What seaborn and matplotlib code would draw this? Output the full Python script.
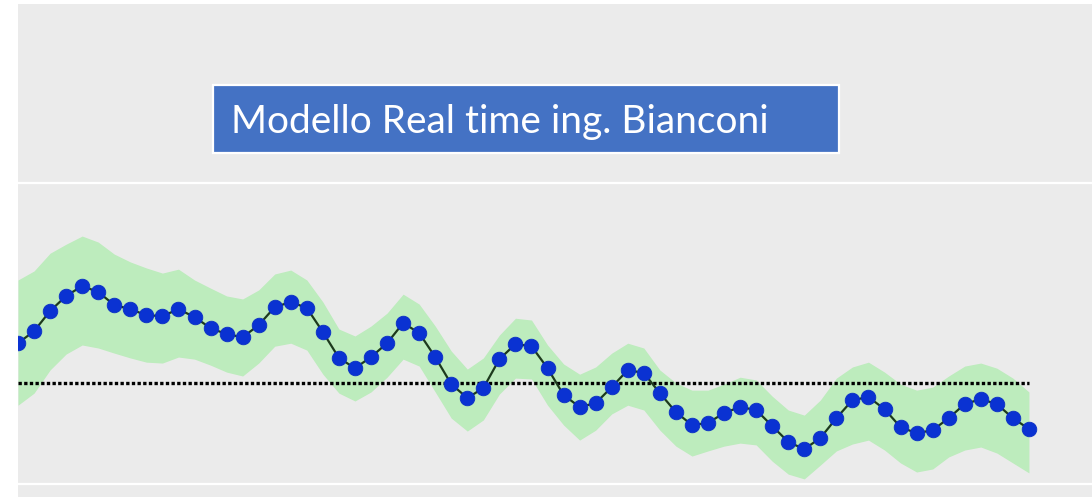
import matplotlib
matplotlib.use("Agg")
import matplotlib.pyplot as plt
from matplotlib.patches import Rectangle
import pandas as pd
import seaborn as sns

title = "Modello Real time ing. Bianconi"

step = list(range(64))
model = [4.68, 5.08, 5.75, 6.25, 6.58, 6.38, 5.95, 5.81, 5.61, 5.58,
         5.81, 5.55, 5.18, 4.98, 4.88, 5.28, 5.88, 6.05, 5.85, 5.05,
         4.19, 3.85, 4.22, 4.68, 5.35, 5.02, 4.22, 3.32, 2.86, 3.19,
         4.15, 4.65, 4.58, 3.85, 2.96, 2.56, 2.69, 3.22, 3.79, 3.69,
         3.02, 2.39, 1.96, 2.03, 2.36, 2.56, 2.46, 1.93, 1.40, 1.16,
         1.53, 2.19, 2.79, 2.89, 2.49, 1.89, 1.69, 1.79, 2.19, 2.66,
         2.82, 2.66, 2.19, 1.83]
upper = [6.78, 7.08, 7.67, 7.97, 8.24, 8.04, 7.64, 7.38, 7.18, 7.01,
         7.14, 6.78, 6.51, 6.25, 6.15, 6.45, 6.98, 7.11, 6.78, 6.05,
         5.15, 4.92, 5.25, 5.68, 6.31, 5.98, 5.25, 4.42, 3.82, 4.19,
         4.95, 5.51, 5.45, 4.62, 3.99, 3.65, 3.89, 4.35, 4.68, 4.52,
         3.79, 3.36, 3.12, 3.12, 3.32, 3.55, 3.46, 2.92, 2.46, 2.29,
         2.79, 3.52, 3.89, 4.05, 3.72, 3.32, 3.12, 3.22, 3.59, 3.92,
         4.02, 3.85, 3.52, 3.06]
lower = [2.62, 3.02, 3.79, 4.32, 4.62, 4.52, 4.35, 4.19, 4.05, 4.02,
         4.22, 4.15, 3.95, 3.72, 3.59, 4.02, 4.58, 4.68, 4.45, 3.65,
         3.02, 2.76, 3.06, 3.55, 4.15, 3.92, 3.06, 2.19, 1.76, 2.13,
         2.99, 3.52, 3.49, 2.62, 1.96, 1.46, 1.79, 2.33, 2.62, 2.46,
         1.79, 1.26, 0.93, 1.10, 1.26, 1.36, 1.30, 0.76, 0.33, 0.17,
         0.63, 1.10, 1.33, 1.46, 1.13, 0.70, 0.40, 0.50, 0.90, 1.13,
         1.23, 1.03, 0.70, 0.37]
threshold = 3.36

df = pd.DataFrame({"step": step, "model": model, "upper": upper, "lower": lower})

sns.set_theme(style="darkgrid", rc={"axes.facecolor": "#ebebeb",
                                    "grid.color": "white",
                                    "grid.linewidth": 1.6})
plt.rcParams['font.family'] = ['Lato', 'DejaVu Sans']

fig = plt.figure(figsize=(10.92, 4.97), dpi=100)
ax = fig.add_axes([18 / 1092, 0, 1 - 18 / 1092, 1 - 4 / 497])

ax.fill_between(df["step"], df["lower"], df["upper"], color="#bdecbd", lw=0, zorder=1)
ax.hlines(threshold, step[0], step[-1], colors="black", linestyles=(0, (1, 0.7)),
          linewidth=2.4, zorder=2)
sns.lineplot(data=df, x="step", y="model", color="#1d3a1d", linewidth=1.6,
             marker="o", markersize=10.5, markerfacecolor="#0a32d2",
             markeredgecolor="#0a2fc4", markeredgewidth=0.6, ax=ax, zorder=3)

ax.set_xlim(0, 66.93)
ax.set_ylim(-0.43, 15.95)
ax.set_xticks([])
ax.set_yticks([0, 10])
ax.set_yticklabels([])
ax.set_xlabel("")
ax.set_ylabel("")
ax.tick_params(length=0)
for s in ax.spines.values():
    s.set_visible(False)

# title box
fig.add_artist(Rectangle((213 / 1092, 1 - 153 / 497), 626 / 1092, 68 / 497,
                         transform=fig.transFigure, facecolor="#4472c4",
                         edgecolor="white", linewidth=1.6, zorder=5))
fig.text(231 / 1092, 1 - 133 / 497, title, color="white", fontsize=28,
         ha="left", va="baseline", zorder=6)

fig.savefig("out.png", dpi=100)
